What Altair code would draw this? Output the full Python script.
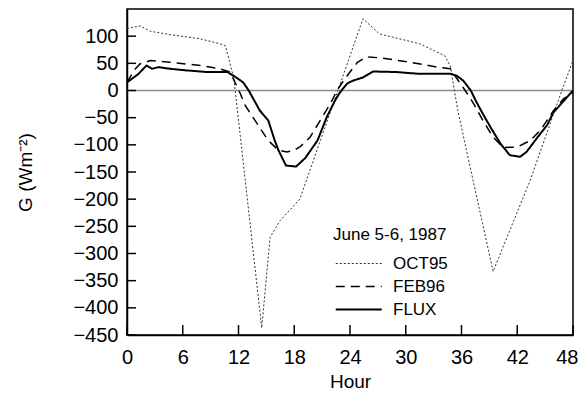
import altair as alt
import pandas as pd

# ---- data ----
oct_hours = [0, 1.4, 2.5, 4.6, 7.9, 10, 10.6, 11.5, 14.5, 15.4, 16.5, 18.6, 25.4, 27.2,
             31.5, 34.2, 34.8, 35.6, 39.4, 43.4, 46.8, 48]
oct_vals = [114, 119, 109, 103, 95, 86, 82, 22, -437, -270, -239, -200, 132, 104,
            86, 64, 45, -37, -333, -165, 0, 55]

feb_hours = [0, 0.8, 1.4, 2.5, 4.6, 7.9, 10, 11.1, 12.2, 12.7, 14.0, 15.2, 16.3, 17.2, 17.9,
             18.6, 19.7, 20.8, 21.9, 22.6, 23.3, 24, 24.8, 25.8, 27.3, 30.5, 33.4, 34.8,
             35.5, 36.4, 37.3, 38.3, 39.4, 40.5, 42, 43.4, 44.5, 45.9, 47, 48]
feb_vals = [15, 38, 49, 55, 52, 46, 40, 34, -6, -27, -61, -92, -110, -113, -111,
            -104, -86, -55, -24, 0, 18, 34, 52, 62, 60, 52, 43, 40,
            22, 0, -24, -55, -86, -105, -104, -92, -73, -37, -15, -4]

flux_hours = [0, 1.2, 2.1, 2.7, 3.4, 4.6, 6.4, 8.6, 10.8, 11.4, 12.5, 13.1, 14.3, 15.2, 15.9,
              16.3, 17.1, 18.2, 19.2, 20.5, 21.5, 22.4, 22.9, 23.7, 24.3, 25.4, 26.5, 29,
              31.2, 34.8, 35.5, 36.2, 37, 37.6, 38.3, 39.1, 40.2, 41.2, 42.3, 43, 44.1,
              45.2, 45.9, 46.6, 48]
flux_vals = [15, 30, 46, 40, 43, 40, 37, 34, 34, 28, 15, 0, -37, -55, -92,
             -110, -138, -140, -124, -92, -49, -18, -4, 13, 18, 24, 35, 34,
             31, 31, 27, 18, 0, -21, -43, -67, -98, -119, -122, -113, -88,
             -64, -40, -27, 0]

series_names = ["OCT95", "FEB96", "FLUX"]
x_ticks = [0, 6, 12, 18, 24, 30, 36, 42, 48]
y_ticks = [-450, -400, -350, -300, -250, -200, -150, -100, -50, 0, 50, 100]

rows = []
for name, hs, vs in zip(series_names, [oct_hours, feb_hours, flux_hours],
                        [oct_vals, feb_vals, flux_vals]):
    for h, v in zip(hs, vs):
        rows.append({"series": name, "hour": h, "G": v})
df = pd.DataFrame(rows)

W, H = 446, 326
FONT = "Liberation Sans"

xscale = alt.Scale(domain=[0, 48], nice=False)
yscale = alt.Scale(domain=[-450, 150], nice=False)

legend = alt.Legend(
    title="June 5-6, 1987", orient="none", legendX=206, legendY=218,
    symbolType="M-1,0H7", symbolSize=132, titleFontSize=17, titleFontWeight="normal",
    titleColor="black", titleFont=FONT, labelFont=FONT, labelFontSize=17,
    labelColor="black", titlePadding=11, rowPadding=5, labelOffset=43,
)

xaxis = alt.Axis(values=x_ticks, ticks=False, grid=False, labelFontSize=20, labelFont=FONT,
                 labelColor="black", domainColor="black", domainWidth=1.5, labelPadding=12,
                 title="Hour", titleFontSize=19, titleFont=FONT, titleFontWeight="normal",
                 titleColor="black", titlePadding=5, labelFlush=False,
                 labelAlign={"expr": "datum.value == 48 ? 'right' : 'center'"},
                 labelOffset={"expr": "datum.value == 48 ? 5 : 0"})
yaxis = alt.Axis(values=y_ticks, ticks=False, grid=False, labelFontSize=20, labelFont=FONT,
                 labelColor="black", domainColor="black", domainWidth=1.5, labelPadding=9,
                 title="G (Wm⁻²)", titleFontSize=19, titleFont=FONT, titleFontWeight="normal",
                 titleColor="black", titlePadding=37)

zero = alt.Chart(pd.DataFrame({"v": [0]})).mark_rule(color="#8c8c8c", strokeWidth=1.3).encode(
    y=alt.Y("v:Q", scale=yscale, axis=yaxis)
)

lines = alt.Chart(df).mark_line().encode(
    x=alt.X("hour:Q", scale=xscale, axis=xaxis),
    y=alt.Y("G:Q", scale=yscale, axis=yaxis),
    color=alt.Color("series:N", sort=series_names,
                    scale=alt.Scale(domain=series_names, range=["#333333", "#000000", "#000000"]),
                    legend=legend),
    strokeDash=alt.StrokeDash("series:N", sort=series_names,
                              scale=alt.Scale(domain=series_names, range=[[2, 2], [9, 6], [1, 0]]),
                              legend=legend),
    strokeWidth=alt.StrokeWidth("series:N", sort=series_names,
                                scale=alt.Scale(domain=series_names, range=[1, 2, 2.2]),
                                legend=legend),
)

ytick_df = pd.DataFrame({"v": y_ticks})
ytick = alt.Chart(ytick_df).mark_rule(color="black", strokeWidth=1.5).encode(
    y=alt.Y("v:Q", scale=yscale, axis=yaxis), x=alt.value(0), x2=alt.value(9)
)
xtick_df = pd.DataFrame({"v": x_ticks})
xtick = alt.Chart(xtick_df).mark_rule(color="black", strokeWidth=1.5).encode(
    x=alt.X("v:Q", scale=xscale, axis=xaxis), y=alt.value(H), y2=alt.value(H - 10)
)

chart = alt.layer(zero, lines, ytick, xtick).properties(
    width=W, height=H,
    autosize=alt.AutoSizeParams(type="none"),
    padding={"left": 119, "top": 1, "right": 5, "bottom": 57},
    background="white",
).configure_view(stroke="black", strokeWidth=1.5)

chart.save("out.html", embed_options={"renderer": "svg", "actions": False})
